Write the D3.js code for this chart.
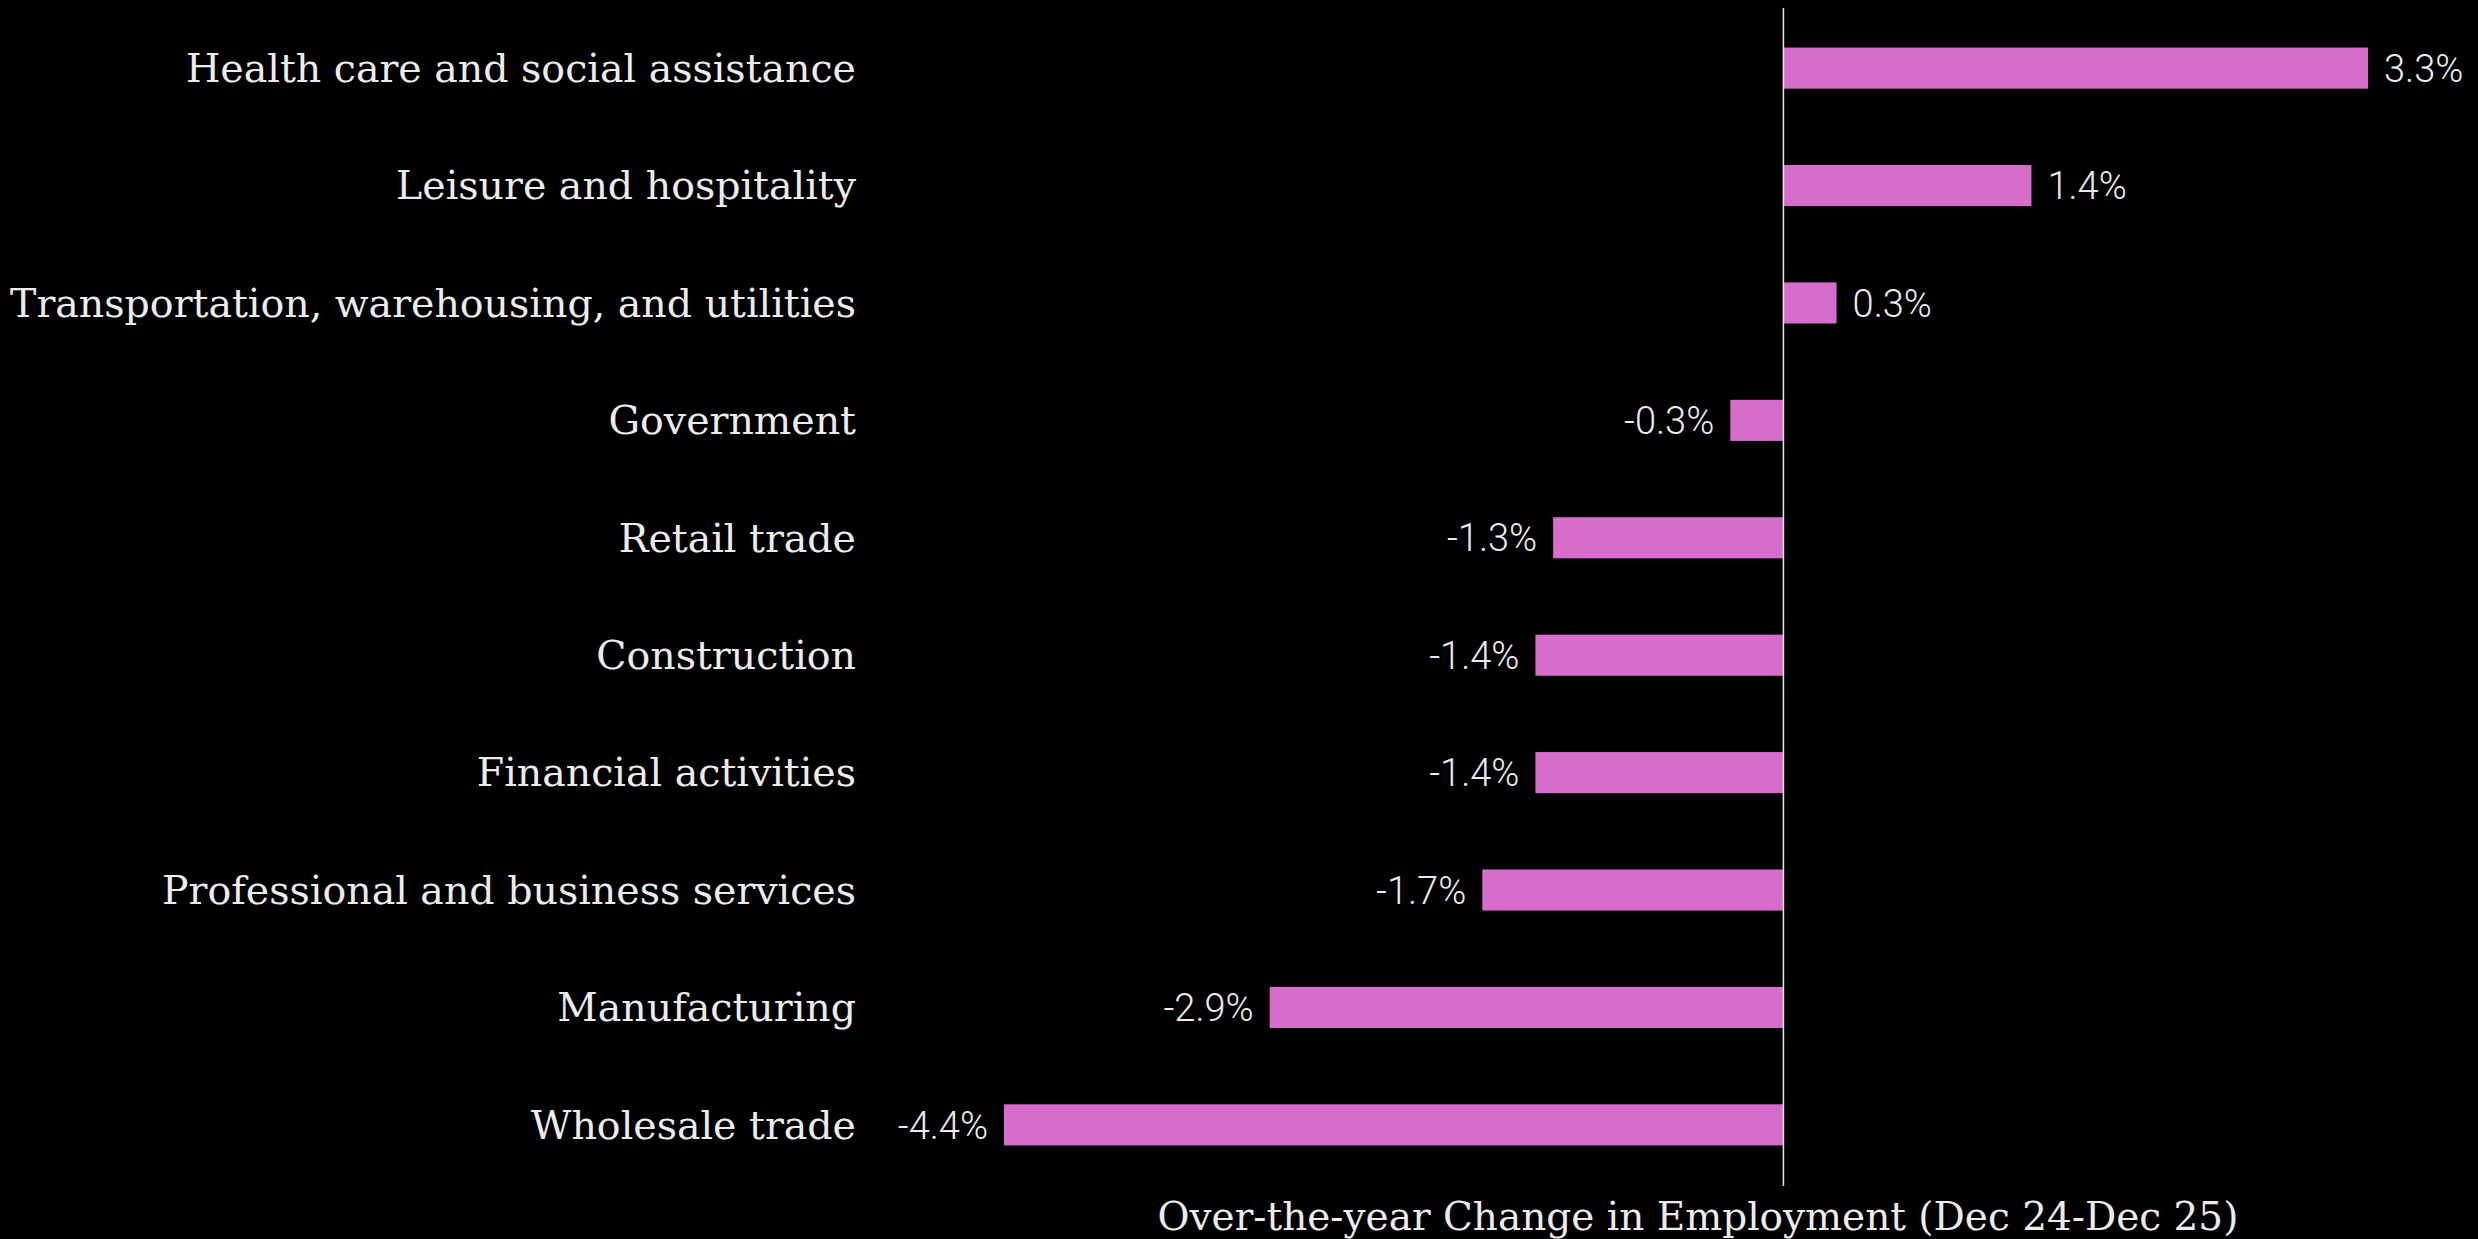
<!DOCTYPE html>
<html>
<head>
<meta charset="utf-8">
<script src="https://cdn.jsdelivr.net/npm/d3@7"></script>
<style>
  html, body { margin: 0; padding: 0; background: #000; }
  svg { display: block; }
  .cat { font-family: "DejaVu Serif", serif; }
  .val { font-family: Roboto, "Noto Sans", sans-serif; font-weight: 300; }
</style>
</head>
<body>
<svg id="chart"></svg>
<script>
// Industry sectors, top to bottom
const categories = [
  "Health care and social assistance",
  "Leisure and hospitality",
  "Transportation, warehousing, and utilities",
  "Government",
  "Retail trade",
  "Construction",
  "Financial activities",
  "Professional and business services",
  "Manufacturing",
  "Wholesale trade"
];
// Over-the-year change in employment, percent
const changes = [3.3, 1.4, 0.3, -0.3, -1.3, -1.4, -1.4, -1.7, -2.9, -4.4];
const axisTitle = "Over-the-year Change in Employment (Dec 24-Dec 25)";

const W = 2478, H = 1239;
const svg = d3.select("#chart").attr("width", W).attr("height", H);
svg.append("rect").attr("width", W).attr("height", H).attr("fill", "#000");

const x = d3.scaleLinear()
  .domain([d3.min(changes), d3.max(changes)])
  .range([1004, 2368]);

const y = d3.scaleBand()
  .domain(categories)
  .range([10, 1183])
  .paddingInner(0.65)
  .paddingOuter(0.32);

const barColor = "#d76dca";
const textColor = "#ececec";
const pct = v => d3.format(".1f")(v).replace("\u2212", "-") + "%";

// bars
svg.append("g").selectAll("rect")
  .data(categories)
  .join("rect")
  .attr("x", (d, i) => Math.min(x(0), x(changes[i])))
  .attr("y", d => y(d))
  .attr("width", (d, i) => Math.abs(x(changes[i]) - x(0)))
  .attr("height", y.bandwidth())
  .attr("fill", barColor);

// zero line
svg.append("line")
  .attr("x1", x(0)).attr("x2", x(0))
  .attr("y1", 8).attr("y2", 1186)
  .attr("stroke", "#e6e6e6").attr("stroke-width", 1.5);

// category labels
svg.append("g").selectAll("text")
  .data(categories)
  .join("text")
  .attr("class", "cat")
  .attr("x", 856)
  .attr("y", d => y(d) + y.bandwidth() / 2)
  .attr("dy", "0.35em")
  .attr("text-anchor", "end")
  .attr("fill", textColor)
  .attr("font-size", 39.5)
  .text(d => d);

// value labels
svg.append("g").selectAll("text")
  .data(categories)
  .join("text")
  .attr("class", "val")
  .attr("x", (d, i) => changes[i] >= 0 ? x(changes[i]) + 16 : x(changes[i]) - 16)
  .attr("y", d => y(d) + y.bandwidth() / 2)
  .attr("dy", "0.36em")
  .attr("text-anchor", (d, i) => changes[i] >= 0 ? "start" : "end")
  .attr("fill", textColor)
  .attr("font-size", 38)
  .text((d, i) => pct(changes[i]));

// axis title
svg.append("text")
  .attr("class", "cat")
  .attr("x", 1698)
  .attr("y", 1230)
  .attr("text-anchor", "middle")
  .attr("fill", textColor)
  .attr("font-size", 39)
  .text(axisTitle);
</script>
</body>
</html>
